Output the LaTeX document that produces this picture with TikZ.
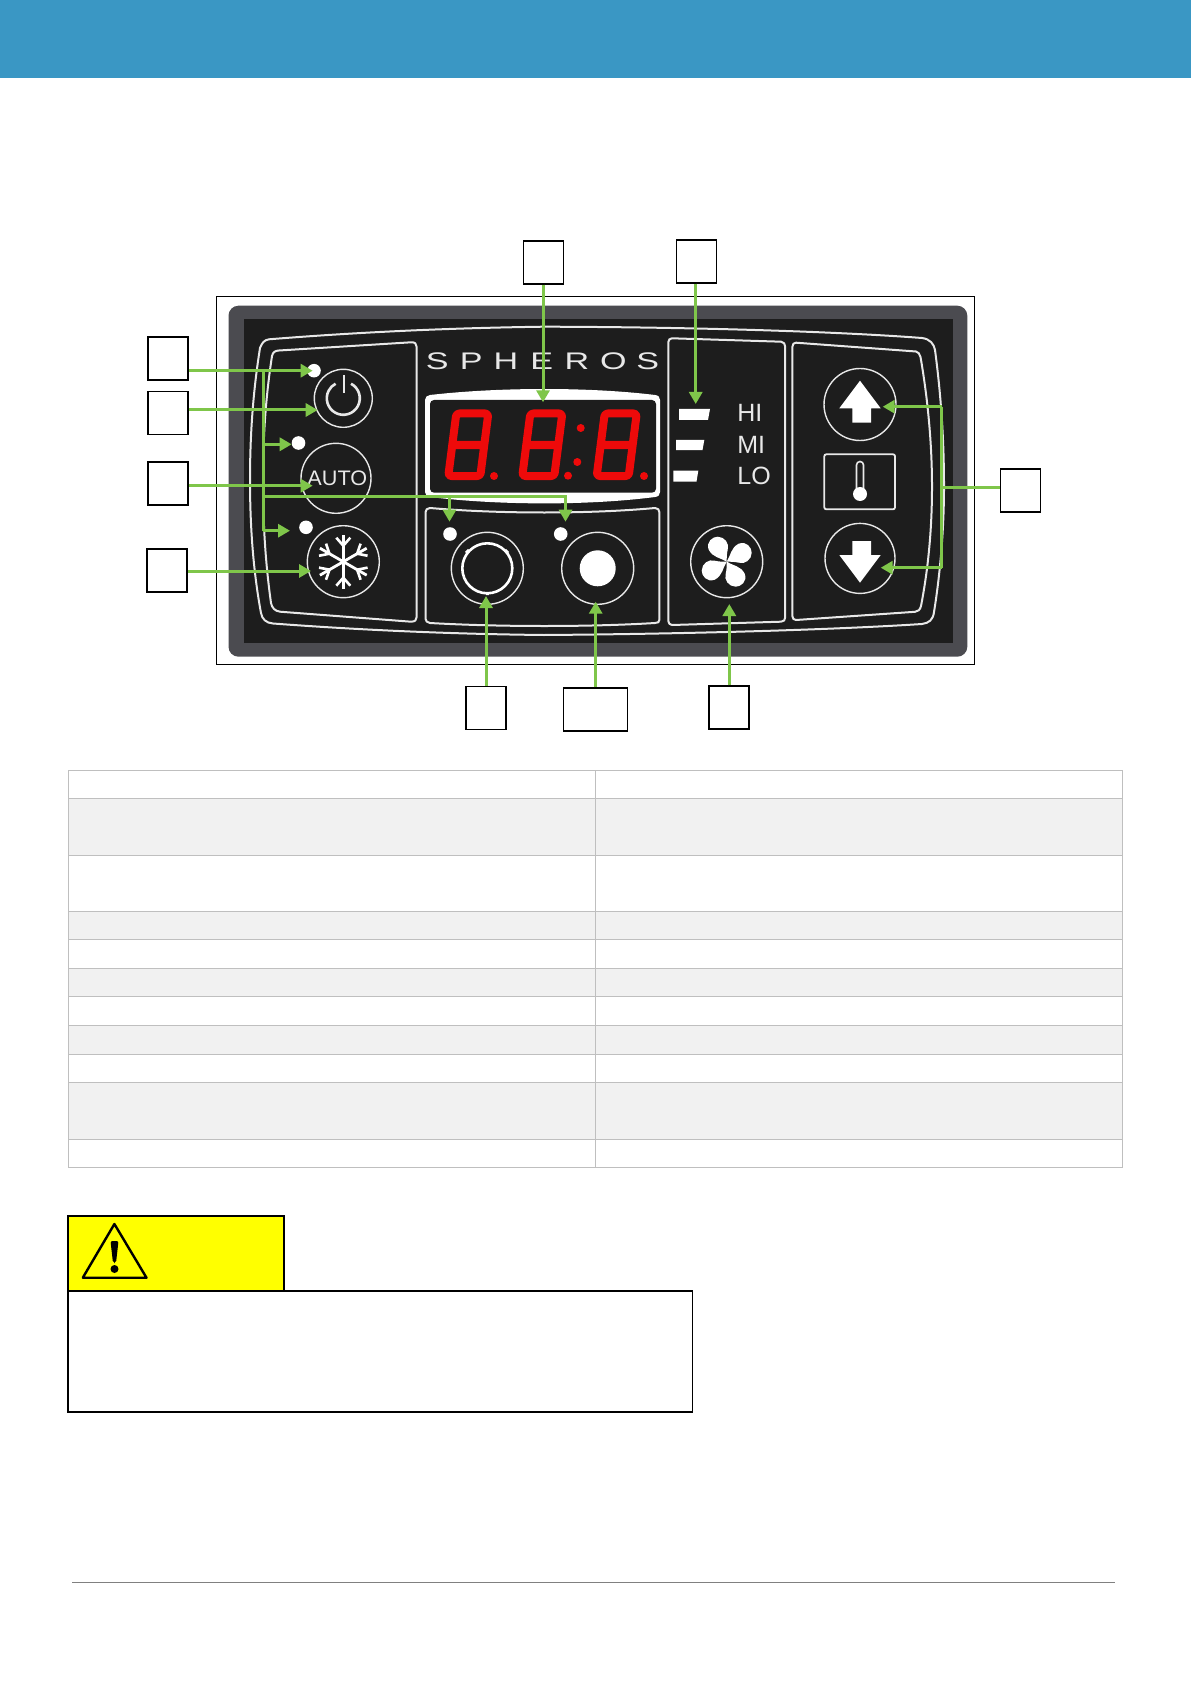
\documentclass[tikz,border=0pt]{standalone}
\usepackage{fontspec}
\setmainfont{Liberation Sans}
\usetikzlibrary{arrows.meta,calc}
\definecolor{headerblue}{HTML}{3A97C4}
\definecolor{panelgray}{HTML}{4B4B50}
\definecolor{paneldark}{HTML}{1D1D1D}
\definecolor{calloutgreen}{HTML}{7FC64A}
\definecolor{rowgray}{HTML}{F1F1F1}
\definecolor{rulegray}{HTML}{BFBFBF}
\definecolor{warnyellow}{HTML}{FFFF00}
\definecolor{ledred}{HTML}{EE0A0A}
\definecolor{softwhite}{HTML}{E8E8E8}
\tikzset{
  tagbox/.style={draw=black, fill=white, line width=0.75pt, inner sep=0pt, minimum width=20pt, minimum height=21.5pt},
  callout/.style={->, line width=1.5pt, draw=calloutgreen, >={Triangle[length=6pt,width=6.5pt]}},
  stem/.style={line width=1.5pt, draw=calloutgreen},
  contour/.style={draw=softwhite, line width=1pt, line join=round},
  ring/.style={circle, draw=softwhite, line width=0.7pt, inner sep=0pt},
  lamp/.style={circle, fill=white, inner sep=0pt, minimum size=6.8pt},
  segment/.style={draw=ledred, line width=4pt, line join=round, rounded corners=1.5pt},
  legend/.style={text=softwhite, font=\fontsize{12.5}{13}\selectfont, inner sep=0pt, anchor=west},
  tablerule/.style={draw=rulegray, line width=0.5pt},
  warnline/.style={draw=black, line width=0.8pt},
}
\begin{document}
\begin{tikzpicture}[x=0.5pt,y=-0.5pt]
  \useasboundingbox (0,0) rectangle (1191,1684);
  \fill[headerblue] (0,0) rectangle (1191,78.4);

  % panel
  \draw[black,line width=0.5pt] (216.4,296.7) rectangle (974.3,664.3);
  \fill[panelgray,rounded corners=5pt] (228.5,305.7) rectangle (967.3,656.7);
  \fill[paneldark] (243.5,319.3) rectangle (952.7,643.3);
  \draw[contour] (269,339.3) .. controls (360,332) and (450,328) .. (544,326.7)
    .. controls (680,327) and (830,331) .. (922,338) .. controls (930,339) and (934,344) .. (935,350)
    .. controls (941,395) and (944,440) .. (944,486.7) .. controls (944,530) and (940,575) .. (934,612)
    .. controls (933,620) and (929,623) .. (922,624) .. controls (830,630) and (680,634) .. (544,635)
    .. controls (450,634) and (360,630) .. (273,623.5) .. controls (266,623) and (262,619) .. (261,613)
    .. controls (253,570) and (250,525) .. (250,480) .. controls (250,435) and (253,392) .. (260,348)
    .. controls (262,343) and (264,340) .. (269,339.3) -- cycle;
  % left block
  \draw[contour] (279,350.5) -- (411,342.3) .. controls (415,342) and (416.7,344) .. (416.7,347)
    -- (416.7,617) .. controls (416.7,620) and (415,621.7) .. (411,621.7) -- (280,611.7)
    .. controls (275,611) and (272,608) .. (271,603) .. controls (265,560) and (263,520) .. (263,480)
    .. controls (263,435) and (266,395) .. (272,356) .. controls (273,352) and (275,350.7) .. (279,350.5) -- cycle;
  % lower middle block
  \draw[contour] (430,508) .. controls (500,514) and (590,514) .. (655,508) .. controls (658,508) and (659.3,510) .. (659.3,512)
    -- (659.3,620) .. controls (659.3,622) and (658,623) .. (655,623) .. controls (590,627) and (500,627) .. (430,623)
    .. controls (427,622.5) and (425.6,621) .. (425.6,619) -- (425.6,512) .. controls (425.6,510) and (427,508) .. (430,508) -- cycle;
  % fan block
  \draw[contour] (672,338.3) -- (781,341.7) .. controls (784,342) and (785,344) .. (785,346) -- (785,618)
    .. controls (785,620) and (784,621.5) .. (781,621.7) -- (672,625) .. controls (670,625) and (668.3,623) .. (668.3,621)
    -- (668.3,342) .. controls (668.3,340) and (670,338.3) .. (672,338.3) -- cycle;
  % arrow block
  \draw[contour] (796,342.7) -- (916,351.5) .. controls (918,352) and (920,354) .. (920.5,357)
    .. controls (928,400) and (932,445) .. (932,486.7) .. controls (932,530) and (928,570) .. (921,606)
    .. controls (920,610) and (918,611.5) .. (915,611.8) -- (796,620) .. controls (794,620) and (792.3,618.5) .. (792.3,616)
    -- (792.3,347) .. controls (792.3,344) and (794,342.7) .. (796,342.7) -- cycle;

  % display
  \fill[white] (430,395) .. controls (500,387) and (590,387) .. (655,395) .. controls (658.5,395.5) and (660,397) .. (660,400)
    -- (660,492) .. controls (660,495) and (658.5,496.5) .. (655,497) .. controls (590,505.5) and (500,505.5) .. (430,497)
    .. controls (427,496.5) and (425,495) .. (425,492) -- (425,400) .. controls (425,397) and (427,395.5) .. (430,395) -- cycle;
  \fill[paneldark,rounded corners=2pt] (430,400) rectangle (656,492.7);
  \foreach \dx in {443.3,517.3,591.7}{
    \begin{scope}[shift={(\dx,0)}]
      \draw[segment] (13,413.5) -- (45,413.5) -- (37,476) -- (5,476) -- cycle (9,445) -- (41,445);
    \end{scope}
  }
  \foreach \px/\py in {494/476,568/475.7,644/476,580.7/428,577.3/462}
    \fill[ledred] (\px,\py) circle (4);

  % brand
  \foreach \letter/\px in {S/437.3,P/471.3,H/506,E/541.7,R/577,O/613.3,S/647.7}
    \node[text=softwhite, font=\fontsize{12}{12}\selectfont, inner sep=0pt, xscale=1.42] at (\px,361.7) {\letter};

  % left buttons
  \node[ring, minimum size=29pt] (power) at (343.3,398.3) {};
  \node[ring, minimum size=35pt] (auto) at (336,478.3) {};
  \node[ring, minimum size=36pt] (snow) at (343.3,561.7) {};
  \node[lamp] (ledpower) at (314,370.7) {};
  \node[lamp] (ledauto) at (298.5,443) {};
  \node[lamp] (ledsnow) at (306,527.3) {};
  \draw[softwhite,line width=1.3pt] ([shift={(-62:16.5)}]power.center) arc (-62:242:16.5);
  \draw[softwhite,line width=1.3pt] (343.9,375) -- (343.9,393);
  \node[text=softwhite, inner sep=0pt, font=\fontsize{10.5}{11}\selectfont, xscale=1.03] at (337.3,478.3) {AUTO};
  \foreach \ang in {0,60,...,300}{
    \begin{scope}[shift={(snow.center)},rotate=\ang]
      \draw[white,line width=1.4pt] (0,0) -- (0,-27);
      \draw[white,line width=1.3pt] (-7,-24) -- (0,-16) -- (7,-24);
    \end{scope}
  }

  % lower middle buttons
  \node[ring, minimum size=36pt] (knobring) at (487.3,568.3) {};
  \node[ring, minimum size=36pt] (knobfull) at (597.7,568.3) {};
  \node[lamp] (ledring) at (450,534) {};
  \node[lamp] (ledfull) at (560.7,534) {};
  \draw[white,line width=1.3pt] (knobring.center) circle (25);
  \draw[white,line width=1.5pt] (466,553) -- (469,550) (505,550) -- (508,553) (487.3,592) -- (487.3,595);
  \fill[white] (knobfull.center) circle (18);

  % fan block
  \fill[white] (679,409) -- (710,409) -- (708,420) -- (679,420) -- cycle;
  \fill[white] (676,440) -- (704.3,440) -- (702.5,450) -- (676,450) -- cycle;
  \fill[white] (673.3,470.7) -- (698.3,470.7) -- (696.5,481.7) -- (673.3,481.7) -- cycle;
  \node[legend] at (737,412.5) {HI};
  \node[legend] at (737,444.5) {MI};
  \node[legend] at (737,475.5) {LO};
  \node[ring, minimum size=36pt] (fan) at (726.7,561.7) {};
  \foreach \ang in {0,90,180,270}{
    \begin{scope}[shift={(fan.center)},rotate=\ang]
      \fill[white] (0,0) .. controls (-6,-4) and (-14,-4) .. (-18,-12) .. controls (-21,-20) and (-14,-25) .. (-9,-25)
        .. controls (-2,-25) and (3,-18) .. (1,-12) .. controls (0,-8) and (0,-4) .. (0,0);
    \end{scope}
  }

  % arrow block
  \node[ring, minimum size=36pt] (up) at (860,404.5) {};
  \node[ring, minimum size=35pt] (down) at (860,558.4) {};
  \fill[white] (860,380.7) -- (880.7,408.3) -- (871,408.3) -- (871,422.7) -- (852.3,422.7) -- (852.3,408.3) -- (839.3,408.3) -- cycle;
  \fill[white] (860,582.7) -- (880.7,555) -- (871,555) -- (871,541) -- (852.3,541) -- (852.3,555) -- (839.3,555) -- cycle;
  \draw[softwhite,line width=0.9pt,rounded corners=1pt] (824.3,454.3) rectangle (895,509.3);
  \draw[softwhite,line width=0.8pt] (856.5,490) -- (856.5,465) arc (180:360:3.5) -- (863.5,490);
  \fill[white] (860,494) circle (7);

  % tags
  \node[tagbox] (tagdisplay) at (543.7,262.3) {};
  \node[tagbox] (taglevel) at (696.3,261.3) {};
  \node[tagbox] (tagleds) at (168.2,358.3) {};
  \node[tagbox] (tagpower) at (168.2,412.8) {};
  \node[tagbox] (tagauto) at (168.2,483.3) {};
  \node[tagbox, line width=0.9pt] (tagsnow) at (166.9,570.3) {};
  \node[tagbox] (tagring) at (486,708) {};
  \node[tagbox, minimum width=32pt] (tagfull) at (595.5,709.3) {};
  \node[tagbox] (tagfan) at (729,707.7) {};
  \node[tagbox] (tagset) at (1020.5,490.3) {};

  % tips
  \coordinate (tipled) at (312.7,370.7);
  \coordinate (tippower) at (317.7,410);
  \coordinate (tipauto) at (312.7,485.7);
  \coordinate (tipsnow) at (311,571);
  \coordinate (tipledauto) at (291.7,444.3);
  \coordinate (tipledsnow) at (290,530.7);
  \coordinate (tipledring) at (449.5,521.7);
  \coordinate (tipledfull) at (565.5,521.7);
  \coordinate (tipdisplay) at (543,402.3);
  \coordinate (tiplevel) at (695.7,404);
  \coordinate (tipring) at (486,596);
  \coordinate (tipfull) at (595.7,601.7);
  \coordinate (tipfan) at (729.3,604);
  \coordinate (tipup) at (882.7,406.7);
  \coordinate (tipdown) at (880.7,567.7);
  \coordinate (spine) at (263.3,496);
  \coordinate (setspine) at (941.7,487.7);

  % connectors
  \draw[callout] (tagleds.east |- tipled) -- (tipled);
  \draw[callout] (tagpower.east |- tippower) -- (tippower);
  \draw[callout] (tagauto.east |- tipauto) -- (tipauto);
  \draw[callout] (tagsnow.east |- tipsnow) -- (tipsnow);
  \draw[stem] (spine |- tipled) -- (spine |- tipledsnow);
  \draw[callout] (spine |- tipledauto) -- (tipledauto);
  \draw[callout] (spine |- tipledsnow) -- (tipledsnow);
  \draw[callout] (spine) -| (tipledfull);
  \draw[callout] (spine -| tipledring) -- (tipledring);
  \draw[callout] (tagdisplay.south -| tipdisplay) -- (tipdisplay);
  \draw[callout] (taglevel.south -| tiplevel) -- (tiplevel);
  \draw[callout] (tagring.north -| tipring) -- (tipring);
  \draw[callout] (tagfull.north -| tipfull) -- (tipfull);
  \draw[callout] (tagfan.north -| tipfan) -- (tipfan);
  \draw[stem] (tagset.west |- setspine) -- (setspine);
  \draw[callout] (setspine |- tipup) -- (tipup);
  \draw[callout] (setspine |- tipdown) -- (tipdown);
  \draw[stem] (setspine |- tipup) -- (setspine |- tipdown);

  % table
  \foreach \ytop/\ybot in {798.3/855,911/939.3,968.3/996.3,1025.3/1054.3,1082.3/1139}
    \fill[rowgray] (68.5,\ytop) rectangle (1122.4,\ybot);
  \draw[tablerule] (68.5,770) rectangle (1122.4,1167.3);
  \draw[tablerule] (595.5,770) -- (595.5,1167.3);
  \foreach \yrow in {798.3,855,911,939.3,968.3,996.3,1025.3,1054.3,1082.3,1139}
    \draw[tablerule] (68.5,\yrow) -- (1122.4,\yrow);

  % warning
  \fill[warnyellow] (67.7,1215.7) rectangle (284,1291);
  \draw[warnline] (67.7,1291) -- (67.7,1215.7) -- (284,1215.7) -- (284,1291);
  \draw[warnline] (67.7,1291) rectangle (692.4,1411.7);
  \draw[black,line width=1.2pt,line join=round] (114.4,1224) -- (146.5,1277.7) -- (82.8,1277.7) -- cycle;
  \fill[black,rounded corners=1pt] (110.5,1241) -- (118.5,1241) -- (116,1263) -- (113,1263) -- cycle;
  \fill[black] (114.5,1269) circle (4);

  % footer
  \draw[gray,line width=0.5pt] (72,1582) -- (1115,1582);
\end{tikzpicture}
\end{document}
